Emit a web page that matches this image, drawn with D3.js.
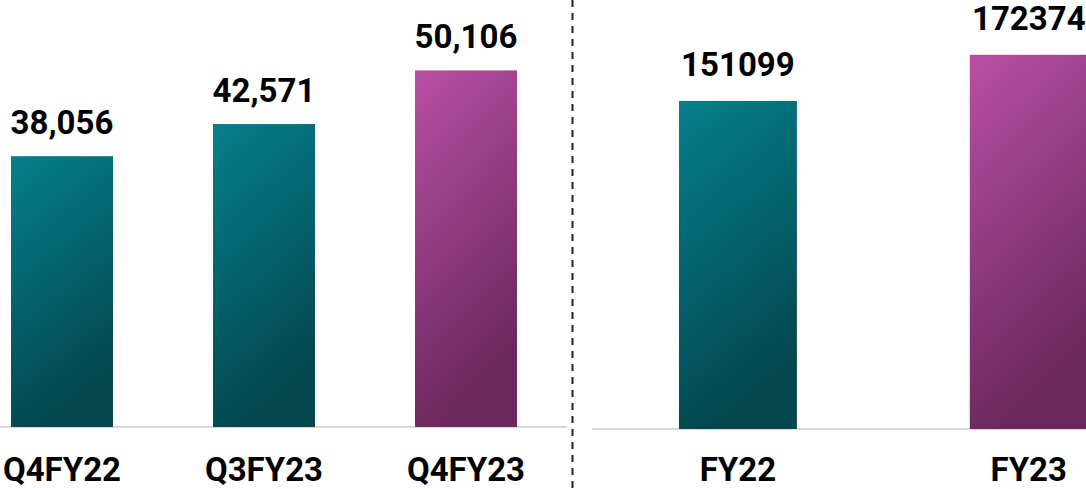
<!DOCTYPE html>
<html>
<head>
<meta charset="utf-8">
<script src="https://cdn.jsdelivr.net/npm/d3@7"></script>
<style>
  html, body { margin: 0; padding: 0; background: #fff; }
  svg { display: block; }
  text { font-family: Roboto, "Open Sans", sans-serif; font-weight: 700; fill: #000; }
</style>
</head>
<body>
<svg id="chart"></svg>
<script>
// quarterly panel
quarters = ["Q4FY22", "Q3FY23", "Q4FY23"];
quarterValues = [38056, 42571, 50106];
quarterLabels = ["38,056", "42,571", "50,106"];
// yearly panel
years = ["FY22", "FY23"];
yearValues = [151099, 172374];
yearLabels = ["151099", "172374"];

var width = 1086, height = 489;
var svg = d3.select("#chart").attr("width", width).attr("height", height);

var defs = svg.append("defs");
function grad(id, c1, c2) {
  var g = defs.append("linearGradient").attr("id", id)
    .attr("x1", 0).attr("y1", 0).attr("x2", 0.3).attr("y2", 1);
  g.append("stop").attr("offset", "0%").attr("stop-color", c1);
  g.append("stop").attr("offset", "100%").attr("stop-color", c2);
}
grad("teal", "#05808b", "#03464e");
grad("plum", "#b94fa4", "#6a285c");

function panel(cats, vals, labels, opts) {
  var x = d3.scaleBand().domain(cats).range(opts.xr)
    .paddingInner(opts.pin).paddingOuter(opts.pout);
  var y = d3.scaleLinear().domain([0, opts.max]).range([opts.base, 0]);
  var g = svg.append("g");

  g.append("line")
    .attr("x1", opts.lineX[0]).attr("x2", opts.lineX[1])
    .attr("y1", opts.base).attr("y2", opts.base)
    .style("stroke", "#d9d9d9").style("stroke-width", 2);

  g.selectAll(".bar").data(vals).enter().append("rect")
    .attr("class", "bar")
    .attr("x", function (d, i) { return x(cats[i]); })
    .attr("y", function (d) { return y(d); })
    .attr("width", x.bandwidth())
    .attr("height", function (d) { return y(0) - y(d); })
    .style("fill", function (d, i) { return i == cats.length - 1 ? "url(#plum)" : "url(#teal)"; });

  g.selectAll(".val").data(vals).enter().append("text")
    .attr("class", "val")
    .attr("x", function (d, i) { return x(cats[i]) + x.bandwidth() / 2; })
    .attr("y", function (d) { return y(d) - opts.gap; })
    .attr("text-anchor", "middle")
    .style("font-size", "33px")
    .text(function (d, i) { return labels[i]; });

  g.selectAll(".cat").data(cats).enter().append("text")
    .attr("class", "cat")
    .attr("x", function (d) { return x(d) + x.bandwidth() / 2; })
    .attr("y", 481)
    .attr("text-anchor", "middle")
    .style("font-size", "33px")
    .text(function (d) { return d; });
}

panel(quarters, quarterValues, quarterLabels,
  { xr: [-39.5, 567.5], pin: 0.495, pout: 0.25, max: 60000, base: 427, gap: 22, lineX: [0, 567] });
panel(years, yearValues, yearLabels,
  { xr: [591.7, 1175], pin: 0.5945, pout: 0.3, max: 197600, base: 429, gap: 25, lineX: [592, 1086] });

// dashed divider
svg.append("line")
  .attr("x1", 572.5).attr("x2", 572.5).attr("y1", 0).attr("y2", height)
  .style("stroke", "#222").style("stroke-width", 2)
  .style("stroke-dasharray", "7,6");
</script>
</body>
</html>
